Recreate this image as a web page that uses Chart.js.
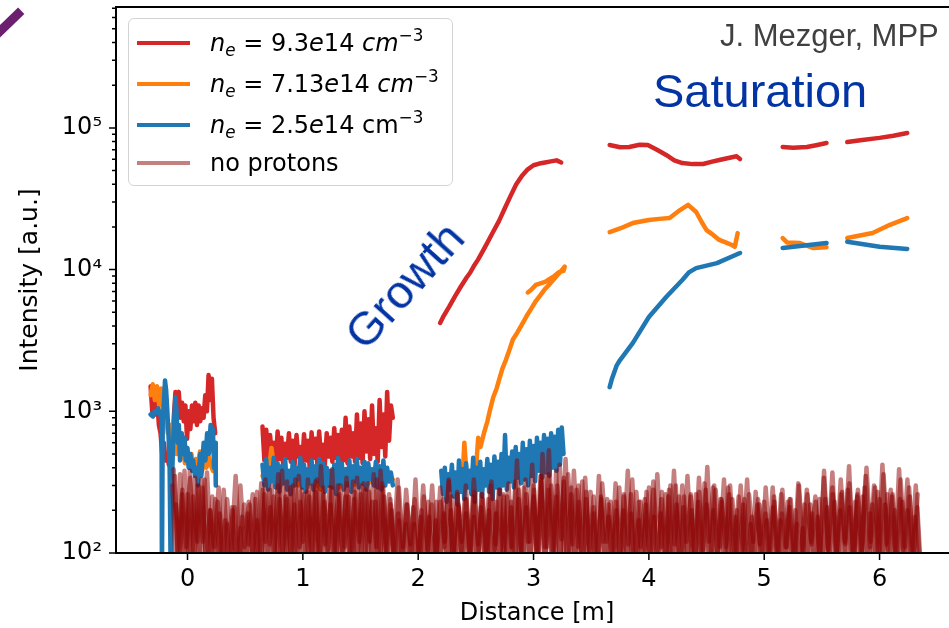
<!DOCTYPE html>
<html>
<head>
<meta charset="utf-8">
<script src="https://cdn.jsdelivr.net/npm/chart.js@4.4.1/dist/chart.umd.min.js"></script>
<style>
  html, body { margin: 0; padding: 0; background: #fff; overflow: hidden; }
  #wrap { position: relative; width: 949px; height: 628px; overflow: hidden; }
  #chart { position: absolute; left: 0; top: 0; }
  .legend {
    position: absolute; left: 128px; top: 18px; width: 323px; height: 166px;
    border: 1px solid #d4d4d4; border-radius: 6px; background: rgba(255,255,255,0.85);
    font-family: 'DejaVu Sans'; font-size: 24px; color: #000;
  }
  .row { position: absolute; left: 0; height: 40px; display: flex; align-items: center; white-space: nowrap; }
  .swatch { width: 53px; height: 4px; margin-left: 8px; margin-right: 20px; }
  .legend sub, .legend sup { font-size: 70%; line-height: 0; }
  .legend sub { vertical-align: -0.3em; }
  .legend sup { vertical-align: 0.6em; }
  .note { position: absolute; font-family: 'Liberation Sans', Arial, sans-serif; line-height: 1; white-space: nowrap; }
  #credit { left: 720px; top: 20px; font-size: 31px; color: #404040; }
  #saturation { left: 653px; top: 67px; font-size: 47px; color: #0334a3; }
  #growth { left: 404px; top: 285px; font-size: 47px; color: #0334a3; transform: translate(-50%, -50%) rotate(-48deg); }
  #slash { position: absolute; left: -8px; top: 18px; width: 34px; height: 9px; background: #6b1f6f; transform: rotate(-44deg); }
</style>
</head>
<body>
<div id="wrap">
  <canvas id="chart" width="962" height="628"></canvas>
  <div id="slash"></div>
  <div class="legend" id="legend"></div>
  <div class="note" id="credit">J. Mezger, MPP</div>
  <div class="note" id="saturation">Saturation</div>
  <div class="note" id="growth">Growth</div>
</div>
<script>
// --- ejes ---
const xTickValues = [0, 1, 2, 3, 4, 5, 6];
const yTickValues = [1e2, 1e3, 1e4, 1e5];
const yTickLabels = ['10²', '10³', '10⁴', '10⁵'];

// --- leyenda (HTML, por el texto matemático) ---
const legendLabels = [
  '<i>n</i><sub><i>e</i></sub> = 9.3<i>e</i>14 <i>cm</i><sup>−3</sup>',
  '<i>n</i><sub><i>e</i></sub> = 7.13<i>e</i>14 <i>cm</i><sup>−3</sup>',
  '<i>n</i><sub><i>e</i></sub> = 2.5<i>e</i>14 cm<sup>−3</sup>',
  'no protons'
];
const seriesColors = ['#d62728', '#ff7f0e', '#1f77b4', 'rgba(139,0,0,0.5)'];

// --- n_e = 9.3e14 (rojo) ---
const redNoiseARange = [-0.32, 0.24];
const redNoiseA = [1500, 1000, 1400, 950, 1200, 800, 700, 500, 600, 450, 500, 420, 600, 500, 900, 1370, 1300, 1370, 900, 1150,
  850, 1100, 640, 1000, 750, 1100, 850, 1150, 800, 1100, 850, 1050, 900, 1300, 1000, 1800, 1200, 1700, 900, 700];
const redNoiseBRange = [0.65, 1.78];
const redNoiseB = [780, 450, 740, 420, 680, 480, 600, 430, 720, 460, 650, 410, 590, 470, 700, 440, 620, 420, 680, 480,
  560, 430, 690, 450, 620, 400, 710, 470, 640, 430, 720, 460, 580, 420, 700, 480, 650, 440, 760, 470,
  680, 420, 740, 450, 900, 430, 780, 480, 700, 440, 950, 470, 820, 430, 1000, 520, 880, 460, 1100, 500,
  760, 440, 1200, 560, 950, 480, 1370, 620, 1100, 900];
const redGrowthX = [2.19, 2.22, 2.27, 2.32, 2.37, 2.42, 2.45, 2.48, 2.52, 2.56, 2.60, 2.65, 2.70, 2.75, 2.80, 2.85, 2.90, 2.95, 3.00, 3.05, 3.10, 3.15, 3.20, 3.24];
const redGrowthY = [4200, 4700, 5500, 6500, 7600, 8800, 9500, 10500, 11800, 13500, 15500, 18500, 22000, 27000, 33000, 40000, 46000, 51000, 54500, 56000, 57000, 58000, 59000, 57000];
const redSatAX = [3.66, 3.75, 3.83, 3.92, 3.99, 4.07, 4.15, 4.22, 4.29, 4.38, 4.47, 4.54, 4.61, 4.68, 4.73, 4.76, 4.79];
const redSatAY = [75700, 73000, 73300, 76000, 75700, 70000, 64400, 59000, 56500, 55500, 55600, 57500, 59300, 61000, 62300, 63000, 60300];
const redSatBX = [5.16, 5.25, 5.37, 5.45, 5.54];
const redSatBY = [73300, 72500, 73300, 75500, 78200];
const redSatCX = [5.72, 5.85, 6.0, 6.12, 6.24];
const redSatCY = [79400, 82000, 85000, 88000, 92000];

// --- n_e = 7.13e14 (naranja) ---
const orangeNoiseARange = [-0.32, 0.22];
const orangeNoiseA = [1300, 1550, 1200, 1500, 1100, 1450, 900, 1000, 700, 800, 600, 750, 500, 600, 480,
  550, 430, 520, 400, 500, 380, 460, 420, 520, 380, 450, 400, 480, 420, 380];
const orangeNoiseBRange = [0.65, 1.78];
const orangeNoiseB = [350, 300, 550, 320, 300, 360, 280, 340, 300, 330, 290, 350, 310, 280, 330,
  300, 350, 290, 320, 340, 300, 310, 350, 290, 330, 300, 340, 320, 360, 330];
const orangeGrowthX = [2.38, 2.40, 2.42, 2.45, 2.48, 2.50, 2.52, 2.54, 2.57, 2.60, 2.62, 2.65, 2.68, 2.70, 2.73, 2.76, 2.79, 2.82, 2.86, 2.90,
  2.94, 2.98, 3.02, 3.06, 3.10, 3.14, 3.18, 3.22, 3.25, 3.27, 3.26, 3.22, 3.18, 3.14, 3.10, 3.06, 3.02, 2.98, 2.95];
const orangeGrowthY = [280, 600, 350, 300, 420, 380, 650, 560, 700, 850, 1000, 1250, 1450, 1650, 2000, 2300, 2700, 3200, 3600, 4100,
  4700, 5300, 6000, 6600, 7300, 7900, 8600, 9400, 10000, 10500, 9800, 9600, 9000, 8600, 8200, 8000, 7800, 7200, 6900];
const orangeSatAX = [3.66, 3.75, 3.86, 4.0, 4.09, 4.18, 4.27, 4.34, 4.41, 4.46, 4.5, 4.56, 4.61, 4.67, 4.72, 4.745, 4.77];
const orangeSatAY = [18400, 19500, 21300, 22400, 22800, 23100, 26300, 28600, 25500, 21500, 19000, 17500, 16200, 15500, 14900, 14500, 18100];
const orangeSatBX = [5.16, 5.2, 5.31, 5.42, 5.54];
const orangeSatBY = [16700, 15500, 15400, 14200, 14400];
const orangeSatCX = [5.72, 5.94, 6.09, 6.24];
const orangeSatCY = [16700, 18100, 20700, 23100];

// --- n_e = 2.5e14 (azul) ---
const blueStartX = [-0.32, -0.30, -0.285, -0.27, -0.255, -0.24, -0.225, -0.222, -0.215, -0.195, -0.185, -0.175, -0.165, -0.155, -0.145, -0.135,
  -0.125, -0.115, -0.105, -0.095, -0.085, -0.075, -0.065, -0.05, -0.04, -0.025, -0.015, 0.0, 0.01, 0.025, 0.04, 0.05,
  0.065, 0.08, 0.09, 0.11, 0.12, 0.14, 0.155, 0.17, 0.185, 0.2, 0.21, 0.22, 0.23, 0.24, 0.245];
const blueStartY = [950, 920, 1000, 980, 1050, 960, 900, 60, 800, 1650, 1400, 1000, 700, 400, 60, 300,
  600, 900, 1260, 1000, 600, 800, 450, 700, 500, 650, 450, 550, 400, 500, 380, 450,
  350, 400, 300, 500, 350, 600, 450, 700, 500, 800, 600, 750, 400, 600, 300];
const blueNoiseBRange = [0.65, 1.78];
const blueNoiseB = [420, 300, 460, 280, 400, 320, 470, 290, 430, 270, 410, 310, 460, 280, 380, 260, 440, 300, 400, 330,
  470, 290, 420, 270, 390, 310, 450, 280, 410, 320, 460, 300, 430, 270, 400, 300, 380, 290, 420, 260,
  470, 310, 430, 280, 390, 300, 450, 270, 410, 320, 460, 290, 400, 310, 440, 280, 430, 330, 390, 300,
  440, 290, 410, 280, 450, 300, 400, 320, 370, 300];
const blueNoiseCRange = [2.2, 3.26];
const blueNoiseC = [380, 260, 400, 230, 360, 280, 420, 250, 370, 220, 450, 270, 390, 240, 430, 290, 380, 260, 470, 230,
  400, 280, 440, 250, 390, 300, 460, 270, 420, 240, 480, 290, 440, 260, 500, 300, 680, 280, 470, 320,
  520, 290, 560, 340, 500, 310, 600, 330, 540, 300, 620, 350, 570, 320, 650, 380, 600, 340, 680, 370,
  640, 350, 700, 400, 660, 380, 740, 420, 770, 500];
const blueSatAX = [3.66, 3.68, 3.72, 3.75, 3.86, 4.0, 4.15, 4.29, 4.35, 4.41, 4.59, 4.79];
const blueSatAY = [1480, 1700, 2100, 2300, 3030, 4630, 6410, 8450, 9600, 10250, 11100, 13100];
const blueSatBX = [5.16, 5.54];
const blueSatBY = [14200, 15400];
const blueSatCX = [5.72, 6.0, 6.24];
const blueSatCY = [15700, 14500, 14000];

// --- no protons (varios disparos superpuestos) ---
const noProtonsARange = [-0.12, 6.35];
const noProtonsA = [390, 90, 260, 110, 340, 80, 300, 120, 370, 95, 240, 85, 280, 100, 210, 75, 300, 110, 230, 90,
  270, 80, 330, 115, 250, 90, 380, 100, 290, 85, 350, 120, 270, 95, 320, 80, 260, 105, 390, 90,
  300, 110, 250, 85, 340, 95, 280, 120, 360, 80, 310, 100, 240, 85, 290, 110, 220, 90, 330, 75,
  250, 105, 300, 90, 230, 120, 320, 80, 270, 100, 240, 95, 330, 115, 260, 85, 300, 105, 280, 90,
  250, 110, 320, 80, 290, 120, 420, 95, 350, 110, 530, 100, 300, 125, 460, 90, 380, 110, 320, 95,
  270, 85, 350, 120, 240, 90, 310, 100, 260, 115, 330, 80, 230, 105, 290, 95, 360, 110, 260, 85,
  380, 100, 300, 120, 250, 90, 340, 105, 405, 95, 280, 110, 330, 85, 240, 100, 300, 90, 260, 120,
  220, 85, 290, 105, 250, 95, 280, 110, 240, 80, 300, 100, 260, 115, 230, 90, 380, 105, 290, 95,
  330, 120, 410, 85, 260, 100, 350, 110, 300, 90, 420, 115, 280, 95, 390, 105, 330, 90, 300, 80];
const noProtonsBRange = [-0.1, 6.33];
const noProtonsB = [220, 100, 380, 85, 250, 120, 330, 90, 200, 110, 290, 80, 240, 105, 350, 95, 220, 115, 260, 85,
  310, 120, 280, 90, 360, 100, 240, 85, 330, 110, 260, 95, 300, 80, 410, 115, 290, 90, 250, 100,
  340, 85, 270, 120, 310, 95, 230, 110, 380, 90, 260, 100, 330, 85, 280, 115, 240, 95, 300, 105,
  220, 90, 290, 110, 330, 80, 260, 120, 300, 95, 270, 105, 240, 85, 320, 115, 280, 90, 310, 100,
  450, 95, 330, 120, 280, 85, 500, 110, 300, 90, 420, 100, 360, 115, 280, 85, 340, 105, 250, 95,
  310, 120, 230, 90, 290, 100, 380, 85, 270, 110, 240, 95, 320, 105, 270, 80, 300, 115, 250, 90,
  350, 100, 260, 85, 310, 120, 290, 95, 240, 110, 300, 90, 250, 105, 330, 85, 270, 115, 230, 100,
  290, 95, 260, 110, 240, 85, 310, 100, 280, 120, 250, 90, 340, 105, 370, 95, 260, 115, 310, 85,
  280, 100, 400, 120, 290, 90, 360, 105, 250, 95, 330, 110, 290, 85, 260];
const noProtonsCRange = [-0.11, 6.34];
const noProtonsC = [350, 70, 280, 60, 380, 80, 300, 65, 330, 75, 250, 60, 190, 80, 160, 55, 210, 70, 180, 65,
  220, 75, 170, 60, 260, 80, 300, 70, 240, 65, 320, 80, 220, 60, 280, 75, 250, 70, 330, 60,
  230, 80, 290, 65, 260, 75, 310, 60, 240, 70, 300, 85, 270, 60, 330, 75, 250, 70, 200, 65,
  170, 80, 220, 60, 160, 70, 200, 75, 180, 60, 230, 80, 190, 65, 250, 70, 210, 60, 240, 75,
  180, 65, 260, 80, 200, 60, 230, 70, 250, 65, 210, 75, 240, 60, 260, 80, 300, 70, 350, 65,
  280, 75, 380, 60, 320, 80, 260, 70, 300, 65, 240, 80, 210, 60, 250, 75, 180, 70, 230, 65,
  200, 80, 260, 60, 170, 75, 220, 70, 280, 65, 190, 80, 250, 60, 300, 75, 210, 70, 260, 65,
  230, 80, 280, 60, 200, 75, 240, 70, 290, 65, 180, 80, 220, 60, 160, 75, 240, 70, 190, 65,
  210, 80, 170, 60, 230, 75, 200, 70, 150, 65, 220, 80, 180, 60, 240, 75, 260, 70, 200, 65,
  280, 80, 230, 60, 250, 75, 190, 70, 270, 65, 220, 80, 260, 60, 240, 75, 200, 70, 180, 65];
const noProtonsDRange = [-0.13, 6.36];
const noProtonsD = [300, 65, 360, 75, 260, 60, 340, 80, 290, 70, 200, 65, 230, 75, 170, 60, 200, 80, 150, 70,
  190, 65, 240, 75, 280, 60, 210, 80, 300, 70, 250, 65, 300, 75, 230, 60, 330, 80, 270, 70,
  290, 65, 220, 75, 300, 60, 250, 80, 320, 70, 260, 65, 310, 75, 230, 60, 290, 80, 220, 70,
  190, 65, 160, 75, 210, 60, 180, 80, 230, 70, 170, 65, 240, 75, 200, 60, 220, 80, 190, 70,
  250, 65, 210, 75, 240, 60, 190, 80, 260, 70, 230, 65, 280, 75, 210, 60, 250, 80, 320, 70,
  360, 65, 250, 75, 340, 60, 290, 80, 230, 70, 270, 65, 190, 75, 240, 60, 220, 80, 200, 70,
  250, 65, 190, 75, 230, 60, 270, 80, 180, 70, 240, 65, 280, 75, 220, 60, 250, 80, 200, 70,
  270, 65, 220, 75, 300, 60, 230, 80, 260, 70, 200, 65, 240, 75, 180, 60, 220, 80, 170, 70,
  230, 65, 190, 75, 210, 60, 160, 80, 220, 70, 190, 65, 240, 75, 210, 60, 230, 80, 270, 70,
  210, 65, 250, 75, 290, 60, 220, 80, 240, 70, 260, 65, 200, 75, 230, 60, 250, 80, 210, 70];

// Convierte un tramo muestreado en puntos {x, y}
function gridPoints(range, values) {
  const step = (range[1] - range[0]) / (values.length - 1);
  return values.map((v, i) => ({ x: range[0] + i * step, y: v }));
}
function pairPoints(xs, ys) {
  return xs.map((x, i) => ({ x: x, y: ys[i] }));
}
// Une tramos con un punto nulo entre ellos para cortar la línea
function joinSegments(segments) {
  const out = [];
  segments.forEach((seg, k) => {
    if (k > 0) out.push({ x: seg[0].x, y: null });
    out.push(...seg);
  });
  return out;
}

function lineDataset(label, color, data, order) {
  return {
    label: label, data: data, order: order,
    showLine: true, borderColor: color, backgroundColor: color,
    borderWidth: 4.5, pointRadius: 0, pointHoverRadius: 0,
    borderJoinStyle: 'round', borderCapStyle: 'round',
    tension: 0, spanGaps: false, clip: 0
  };
}

const datasets = [
  lineDataset('red', seriesColors[0], joinSegments([
    gridPoints(redNoiseARange, redNoiseA), gridPoints(redNoiseBRange, redNoiseB),
    pairPoints(redGrowthX, redGrowthY), pairPoints(redSatAX, redSatAY),
    pairPoints(redSatBX, redSatBY), pairPoints(redSatCX, redSatCY)]), 6),
  lineDataset('orange', seriesColors[1], joinSegments([
    gridPoints(orangeNoiseARange, orangeNoiseA), gridPoints(orangeNoiseBRange, orangeNoiseB),
    pairPoints(orangeGrowthX, orangeGrowthY), pairPoints(orangeSatAX, orangeSatAY),
    pairPoints(orangeSatBX, orangeSatBY), pairPoints(orangeSatCX, orangeSatCY)]), 5),
  lineDataset('blue', seriesColors[2], joinSegments([
    pairPoints(blueStartX, blueStartY), gridPoints(blueNoiseBRange, blueNoiseB),
    gridPoints(blueNoiseCRange, blueNoiseC), pairPoints(blueSatAX, blueSatAY),
    pairPoints(blueSatBX, blueSatBY), pairPoints(blueSatCX, blueSatCY)]), 4),
  lineDataset('no protons', seriesColors[3], gridPoints(noProtonsARange, noProtonsA), 3),
  lineDataset('no protons B', seriesColors[3], gridPoints(noProtonsBRange, noProtonsB), 2),
  lineDataset('no protons C', seriesColors[3], gridPoints(noProtonsCRange, noProtonsC), 1),
  lineDataset('no protons D', seriesColors[3], gridPoints(noProtonsDRange, noProtonsD), 0)
];

// Marco de ejes al estilo matplotlib (spines + ticks mayores y menores)
const axisFrame = {
  id: 'axisFrame',
  afterDatasetsDraw(chart) {
    const { ctx, chartArea: a, scales: { x, y } } = chart;
    ctx.save();
    ctx.strokeStyle = '#000';
    ctx.lineWidth = 2;
    ctx.strokeRect(a.left, a.top, a.right - a.left, a.bottom - a.top);
    ctx.lineWidth = 1.5;
    ctx.beginPath();
    xTickValues.forEach(v => {
      const px = x.getPixelForValue(v);
      ctx.moveTo(px, a.bottom);
      ctx.lineTo(px, a.bottom + 7);
    });
    for (let e = 2; e <= 5; e++) {
      for (let m = 1; m <= 9; m++) {
        const v = m * Math.pow(10, e);
        if (v > y.max) break;
        const py = y.getPixelForValue(v);
        ctx.moveTo(a.left, py);
        ctx.lineTo(a.left - (m === 1 ? 7 : 4), py);
      }
    }
    ctx.stroke();
    ctx.restore();
  }
};

const tickFont = { family: 'DejaVu Sans', size: 24 };

new Chart(document.getElementById('chart').getContext('2d'), {
  type: 'scatter',
  data: { datasets: datasets },
  options: {
    responsive: false,
    animation: false,
    events: [],
    layout: { padding: { top: 7, right: 4, left: 0, bottom: 0 } },
    plugins: { legend: { display: false }, tooltip: { enabled: false } },
    scales: {
      x: {
        type: 'linear', min: -0.62, max: 6.68, bounds: 'data',
        afterBuildTicks: s => { s.ticks = xTickValues.map(v => ({ value: v })); },
        afterFit: s => { s.height = 75; s.paddingLeft = 0; s.paddingRight = 0; },
        grid: { display: false, drawTicks: false },
        border: { display: false },
        ticks: { font: tickFont, color: '#000', padding: 12, maxRotation: 0, callback: v => String(v) },
        title: { display: true, text: 'Distance [m]', font: tickFont, color: '#000', padding: { top: 0, bottom: 0 } }
      },
      y: {
        type: 'logarithmic', min: 100, max: 7.13e5, bounds: 'data',
        afterBuildTicks: s => { s.ticks = yTickValues.map(v => ({ value: v })); },
        afterFit: s => { s.width = 116; s.paddingTop = 0; s.paddingBottom = 0; },
        grid: { display: false, drawTicks: false },
        border: { display: false },
        ticks: { font: tickFont, color: '#000', padding: 14, callback: (v, i) => yTickLabels[i] },
        title: { display: true, text: 'Intensity [a.u.]', font: { family: 'DejaVu Sans', size: 25 }, color: '#000', padding: { top: 15, bottom: 0 } }
      }
    }
  },
  plugins: [axisFrame]
});

// Leyenda en HTML con subíndices y superíndices
const legendBox = document.getElementById('legend');
const rowTops = [4, 45, 86, 124];
legendLabels.forEach((html, i) => {
  const row = document.createElement('div');
  row.className = 'row';
  row.style.top = rowTops[i] + 'px';
  row.innerHTML = '<span class="swatch" style="background:' + seriesColors[i] + '"></span><span>' + html + '</span>';
  legendBox.appendChild(row);
});
</script>
</body>
</html>
